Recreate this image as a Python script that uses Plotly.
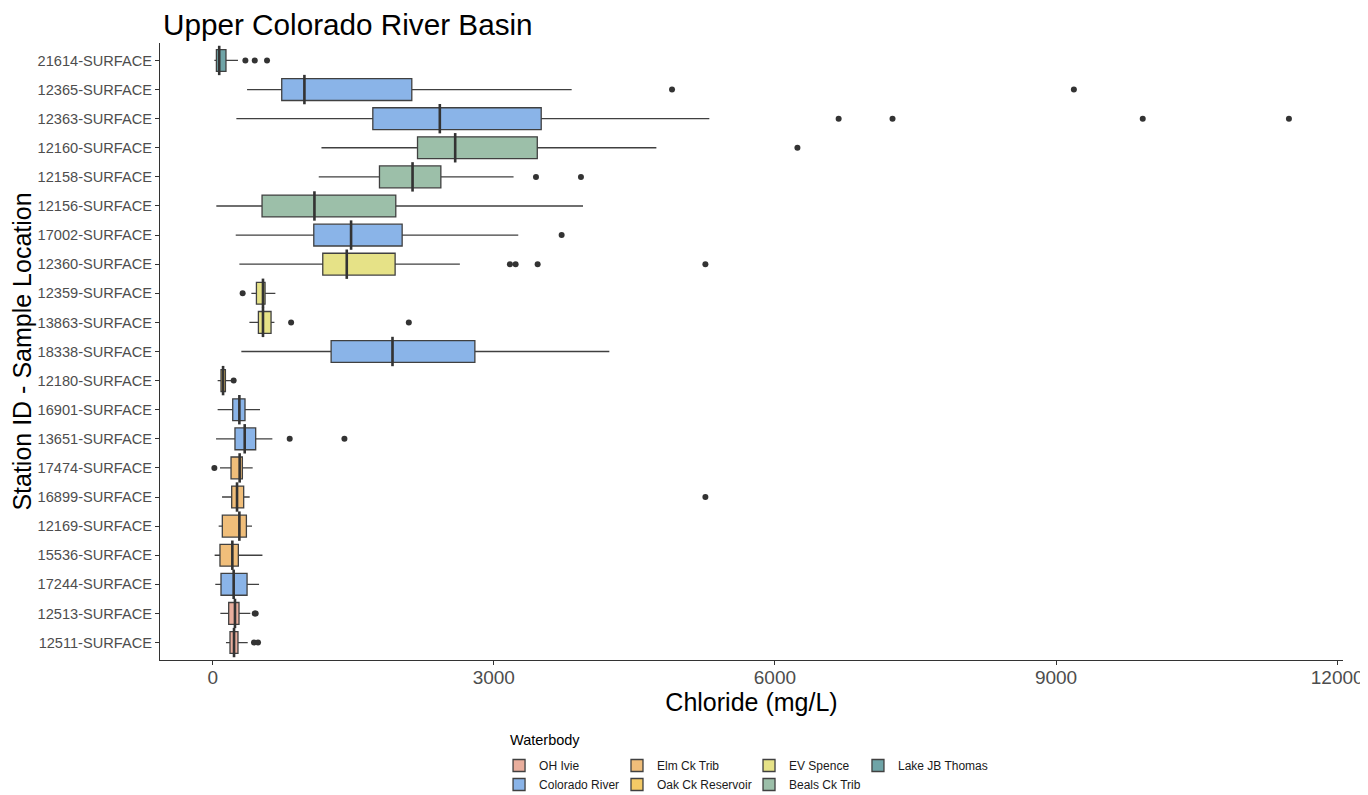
import plotly.graph_objects as go

# ---- data (top-to-bottom as shown) ----
stations = ["21614-SURFACE", "12365-SURFACE", "12363-SURFACE", "12160-SURFACE", "12158-SURFACE",
            "12156-SURFACE", "17002-SURFACE", "12360-SURFACE", "12359-SURFACE", "13863-SURFACE",
            "18338-SURFACE", "12180-SURFACE", "16901-SURFACE", "13651-SURFACE", "17474-SURFACE",
            "16899-SURFACE", "12169-SURFACE", "15536-SURFACE", "17244-SURFACE", "12513-SURFACE",
            "12511-SURFACE"]
waterbody = ["Lake JB Thomas", "Colorado River", "Colorado River", "Beals Ck Trib", "Beals Ck Trib",
             "Beals Ck Trib", "Colorado River", "EV Spence", "EV Spence", "EV Spence",
             "Colorado River", "Oak Ck Reservoir", "Colorado River", "Colorado River", "Elm Ck Trib",
             "Elm Ck Trib", "Elm Ck Trib", "Elm Ck Trib", "Colorado River", "OH Ivie", "OH Ivie"]
lower = [18, 367, 253, 1161, 1132, 39, 246, 285, 413, 392, 306, 53, 53, 36, 78, 100, 64, 21, 28, 82, 142]
q1 = [40, 737, 1709, 2186, 1780, 527, 1079, 1175, 467, 488, 1264, 89, 214, 238, 196, 203, 103, 78, 89, 171, 185]
median = [70, 979, 2424, 2588, 2133, 1086, 1477, 1431, 537, 537, 1919, 111, 285, 342, 288, 260, 285, 210, 224, 238, 228]
q3 = [142, 2125, 3506, 3464, 2435, 1954, 2022, 1947, 559, 623, 2798, 136, 345, 459, 317, 331, 360, 274, 367, 281, 270]
upper = [270, 3831, 5300, 4735, 3211, 3952, 3261, 2638, 669, 659, 4233, 196, 505, 637, 427, 395, 420, 531, 495, 402, 374]
outliers = [[349, 449, 580], [4902, 9190], [6680, 7255, 9925, 11485], [6240], [3450, 3930], [], [3724],
            [3172, 3233, 3468, 5258], [320], [837, 2093], [], [224], [], [822, 1406], [18], [5258],
            [], [], [], [449, 459], [441, 484]]

levels = ["OH Ivie", "Colorado River", "Elm Ck Trib", "Oak Ck Reservoir", "EV Spence",
          "Beals Ck Trib", "Lake JB Thomas"]
fills = {"OH Ivie": "#e9ae9d", "Colorado River": "#8ab4e8", "Elm Ck Trib": "#f0be7a",
         "Oak Ck Reservoir": "#f4ca66", "EV Spence": "#e6e287", "Beals Ck Trib": "#9cbfa9",
         "Lake JB Thomas": "#6fa4a7"}
legend_of = {"OH Ivie": "legend", "Colorado River": "legend", "Elm Ck Trib": "legend2",
             "Oak Ck Reservoir": "legend2", "EV Spence": "legend3", "Beals Ck Trib": "legend3",
             "Lake JB Thomas": "legend4"}

FONT = "Liberation Sans, Arial, sans-serif"
fig = go.Figure()

for wb in levels:
    idx = [i for i, w in enumerate(waterbody) if w == wb]
    fig.add_trace(go.Box(
        name=wb, orientation="h",
        y=[stations[i] for i in idx],
        q1=[q1[i] for i in idx], median=[median[i] for i in idx], q3=[q3[i] for i in idx],
        lowerfence=[lower[i] for i in idx], upperfence=[upper[i] for i in idx],
        fillcolor=fills[wb], line=dict(color="#404040", width=1.3),
        whiskerwidth=0, width=0.75, boxpoints=False,
        legend=legend_of[wb], hoverinfo="skip",
    ))

# thicker median bars
fig.add_trace(go.Scatter(
    x=median, y=stations, mode="markers", showlegend=False, hoverinfo="skip",
    marker=dict(symbol="line-ns", size=21, line=dict(color="#333333", width=2.6)),
))

# outliers
ox, oy = [], []
for s, pts in zip(stations, outliers):
    for p in pts:
        ox.append(p)
        oy.append(s)
fig.add_trace(go.Scatter(
    x=ox, y=oy, mode="markers", showlegend=False, hoverinfo="skip",
    marker=dict(color="#333333", size=6),
))

leg_common = dict(orientation="v", xanchor="left", yanchor="top",
                  font=dict(family=FONT, size=12, color="#1a1a1a"),
                  bgcolor="rgba(0,0,0,0)", tracegroupgap=0)
LEG_Y = -0.1475
DX = 0.0076

fig.update_layout(
    template="none",
    width=1360, height=787,
    paper_bgcolor="white", plot_bgcolor="white",
    margin=dict(l=152, r=25, t=35, b=135, autoexpand=False),
    boxmode="overlay",
    title=dict(text="Upper Colorado River Basin", x=155 / 1360, xanchor="left",
               y=1 - 17 / 787, yanchor="middle",
               font=dict(family=FONT, size=29.7, color="black")),
    xaxis=dict(range=[-562, 12062], tickvals=[0, 3000, 6000, 9000, 12000],
               ticktext=["0", "3000", "6000", "9000", "12000"],
               showgrid=False, zeroline=False, showline=True, linecolor="#333333", linewidth=1.3,
               ticks="outside", ticklen=4, tickcolor="#333333", tickwidth=1.1,
               ticklabelstandoff=-4,
               tickfont=dict(family=FONT, size=19, color="#4d4d4d"),
               title=dict(text="Chloride (mg/L)", standoff=0,
                          font=dict(family=FONT, size=25, color="black"))),
    yaxis=dict(type="category", categoryorder="array", categoryarray=stations[::-1],
               range=[-0.6, len(stations) - 0.4],
               showgrid=False, zeroline=False, showline=True, linecolor="#333333", linewidth=1.3,
               ticks="outside", ticklen=4, tickcolor="#333333", tickwidth=1.1,
               tickfont=dict(family=FONT, size=14.6, color="#4d4d4d"),
               title=dict(text="Station ID - Sample Location", standoff=6,
                          font=dict(family=FONT, size=25, color="black"))),
    legend=dict(x=0.279 + DX, y=LEG_Y, **leg_common),
    legend2=dict(x=0.3787 + DX, y=LEG_Y, **leg_common),
    legend3=dict(x=0.4903 + DX, y=LEG_Y, **leg_common),
    legend4=dict(x=0.5824 + DX, y=LEG_Y, **leg_common),
    annotations=[dict(text="Waterbody", x=0.294, y=-0.1297, xref="paper", yref="paper",
                      xanchor="left", yanchor="middle", showarrow=False,
                      font=dict(family=FONT, size=14.5, color="black"))],
)

fig.write_html("out.html")
